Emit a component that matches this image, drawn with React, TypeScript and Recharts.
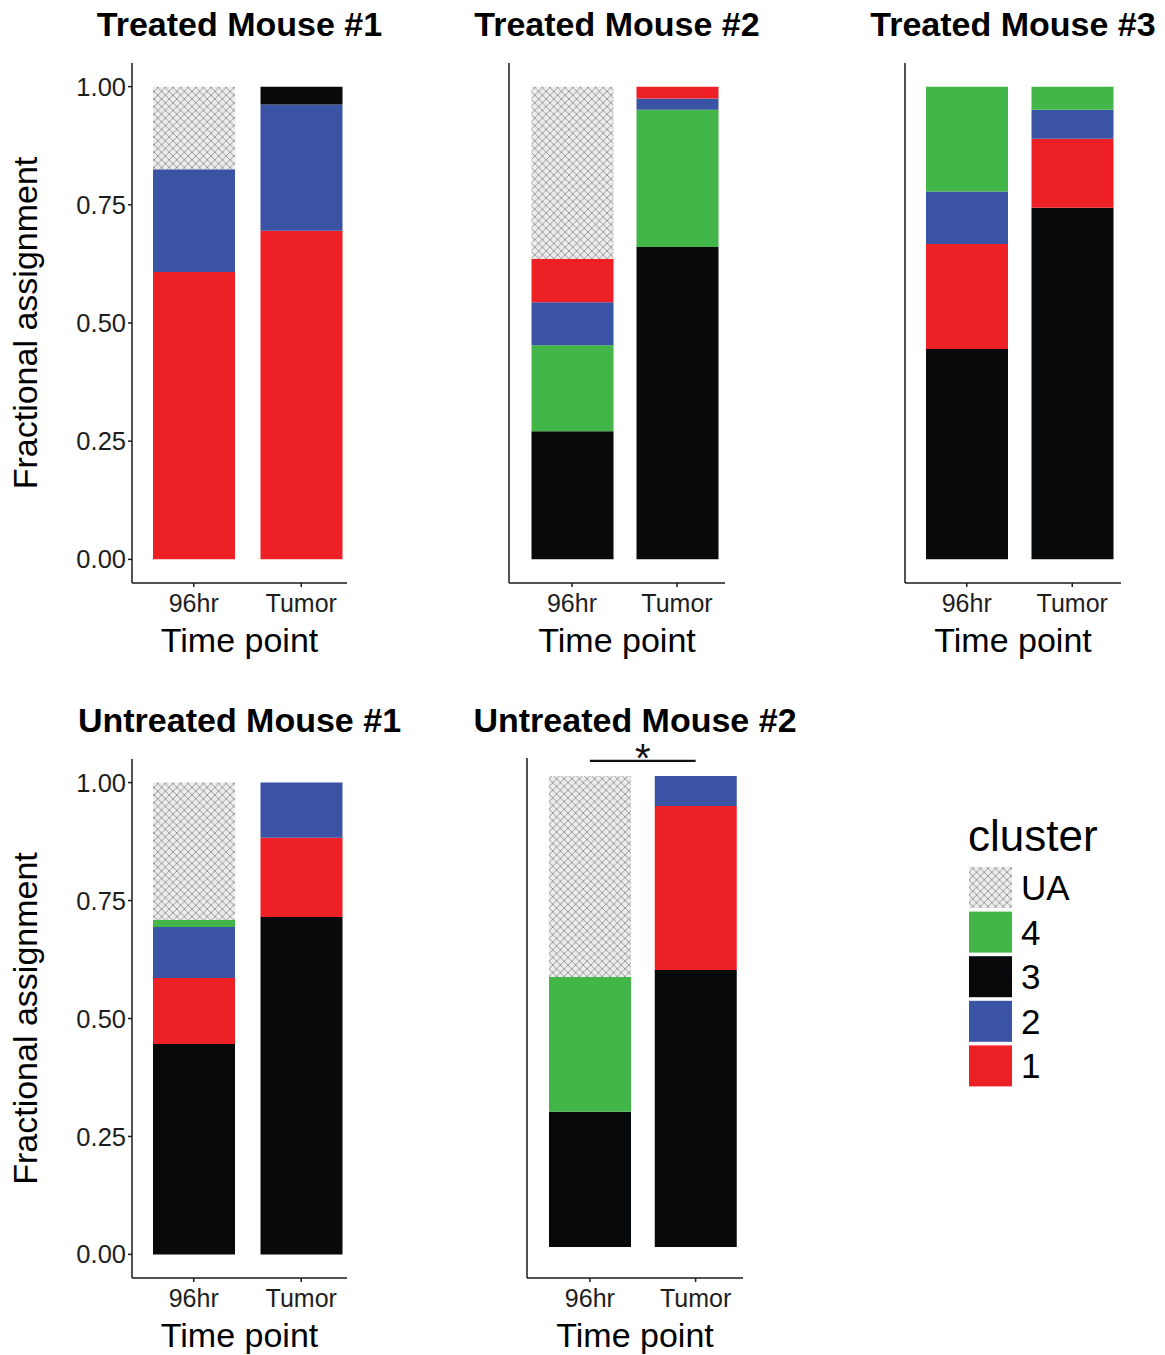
import React from 'react';
import { BarChart, Bar, XAxis, YAxis, ReferenceLine } from 'recharts';

const FONT = '"Liberation Sans", Arial, Helvetica, sans-serif';

// categories
const timePoints = ['96hr', 'Tumor'];
const yTicks = [0, 0.25, 0.5, 0.75, 1];
const legendKeys = ['UA', '4', '3', '2', '1'];

// colors per cluster
const clusterColors: Record<string, string> = {
  c1: '#ED2125',
  c2: '#3A53A4',
  c3: '#08090B',
  c4: '#42B649',
};

// values per cluster, [96hr, Tumor]
const treated1_c1 = [0.608, 0.695];
const treated1_c2 = [0.217, 0.267];
const treated1_c3 = [0, 0.038];
const treated1_c4 = [0, 0];
const treated1_ua = [0.175, 0];

const treated2_c1 = [0.092, 0.025];
const treated2_c2 = [0.091, 0.024];
const treated2_c3 = [0.271, 0.661];
const treated2_c4 = [0.182, 0.290];
const treated2_ua = [0.364, 0];

const treated3_c1 = [0.222, 0.146];
const treated3_c2 = [0.111, 0.061];
const treated3_c3 = [0.445, 0.744];
const treated3_c4 = [0.222, 0.049];
const treated3_ua = [0, 0];

const untreated1_c1 = [0.140, 0.168];
const untreated1_c2 = [0.108, 0.117];
const untreated1_c3 = [0.446, 0.715];
const untreated1_c4 = [0.015, 0];
const untreated1_ua = [0.291, 0];

const untreated2_c1 = [0, 0.348];
const untreated2_c2 = [0, 0.064];
const untreated2_c3 = [0.287, 0.588];
const untreated2_c4 = [0.286, 0];
const untreated2_ua = [0.427, 0];

// stacking order (bottom -> top) per panel
const order1 = ['c1', 'c2', 'c3', 'c4', 'UA'];
const order2 = ['c3', 'c4', 'c2', 'c1', 'UA'];
const order3 = ['c3', 'c1', 'c2', 'c4', 'UA'];
const order4 = ['c3', 'c1', 'c2', 'c4', 'UA'];
const order5 = ['c3', 'c4', 'c1', 'c2', 'UA'];

// significance annotation for Untreated Mouse #2
const sigPair = ['96hr', 'Tumor'];
const sigLevel = 1.032;
const sigLabel = '*';

const Y_W = 130;
const M_TOP = 40;

type PanelCfg = {
  id: string;
  title: string;
  vals: number[][]; // c1,c2,c3,c4,UA
  order: string[];
  plotLeft: number;
  plotTop: number;
  plotW: number;
  plotH: number;
  padL: number;
  padR: number;
  domain: [number, number];
  showY: boolean;
  titleTop: number;
  sig?: boolean;
};

const panels: PanelCfg[] = [
  {
    id: 't1', title: 'Treated Mouse #1',
    vals: [treated1_c1, treated1_c2, treated1_c3, treated1_c4, treated1_ua],
    order: order1, plotLeft: 132, plotTop: 63, plotW: 215, plotH: 520,
    padL: 8, padR: -8, domain: [-0.05, 1.05], showY: true, titleTop: 9,
  },
  {
    id: 't2', title: 'Treated Mouse #2',
    vals: [treated2_c1, treated2_c2, treated2_c3, treated2_c4, treated2_ua],
    order: order2, plotLeft: 509, plotTop: 63, plotW: 216, plotH: 520,
    padL: 10.5, padR: -4.5, domain: [-0.05, 1.05], showY: false, titleTop: 9,
  },
  {
    id: 't3', title: 'Treated Mouse #3',
    vals: [treated3_c1, treated3_c2, treated3_c3, treated3_c4, treated3_ua],
    order: order3, plotLeft: 905, plotTop: 63, plotW: 216, plotH: 520,
    padL: 9, padR: -4, domain: [-0.05, 1.05], showY: false, titleTop: 9,
  },
  {
    id: 'u1', title: 'Untreated Mouse #1',
    vals: [untreated1_c1, untreated1_c2, untreated1_c3, untreated1_c4, untreated1_ua],
    order: order4, plotLeft: 132, plotTop: 759, plotW: 215, plotH: 519,
    padL: 8, padR: -8, domain: [-0.05, 1.05], showY: true, titleTop: 705,
  },
  {
    id: 'u2', title: 'Untreated Mouse #2',
    vals: [untreated2_c1, untreated2_c2, untreated2_c3, untreated2_c4, untreated2_ua],
    order: order5, plotLeft: 527, plotTop: 758, plotW: 216, plotH: 520,
    padL: 10, padR: -5.5, domain: [-0.066, 1.038], showY: false, titleTop: 705, sig: true,
  },
];

function Hatch({ id }: { id: string }) {
  return (
    <pattern id={id} patternUnits="userSpaceOnUse" width={7.6} height={7.6}>
      <rect x={0} y={0} width={7.6} height={7.6} fill="#ececec" />
      <path d="M-1,-1 L8.6,8.6 M-1,8.6 L8.6,-1" stroke="#929292" strokeWidth={0.9} />
    </pattern>
  );
}

const XTitle = (props: any) => {
  const vb = props.viewBox || { x: 0, y: 0, width: 0, height: 0 };
  return (
    <text x={vb.x + vb.width / 2} y={vb.y + 69} textAnchor="middle" fontSize={34} fontFamily={FONT} fill="#000">
      Time point
    </text>
  );
};

const YTitle = (props: any) => {
  const vb = props.viewBox || { x: 0, y: 0, width: 0, height: 0 };
  const x = vb.x + 35;
  const y = vb.y + vb.height / 2;
  return (
    <text x={x} y={y} transform={`rotate(-90, ${x}, ${y})`} textAnchor="middle" fontSize={34} fontFamily={FONT} fill="#000">
      Fractional assignment
    </text>
  );
};

const SigMark = (props: any) => {
  const vb = props.viewBox || { x: 0, y: 0, width: 0, height: 0 };
  return (
    <text x={vb.x + vb.width / 2} y={vb.y + 11} textAnchor="middle" fontSize={40} fontFamily={FONT} fill="#111">
      {sigLabel}
    </text>
  );
};

function Panel({ p }: { p: PanelCfg }) {
  const data = timePoints.map((t, i) => ({
    time: t,
    c1: p.vals[0][i],
    c2: p.vals[1][i],
    c3: p.vals[2][i],
    c4: p.vals[3][i],
    UA: p.vals[4][i],
  }));
  const pid = `ua-${p.id}`;
  const chartW = Y_W + p.plotW + 10;
  const chartH = M_TOP + p.plotH + 80;
  const axisStyle = { stroke: '#1a1a1a', strokeWidth: 1.5 };
  return (
    <>
      <div
        style={{
          position: 'absolute', left: p.plotLeft - 60, width: p.plotW + 120, top: p.titleTop,
          textAlign: 'center', fontSize: 34, lineHeight: '30px', fontWeight: 700, fontFamily: FONT,
          color: '#000', whiteSpace: 'nowrap',
        }}
      >
        {p.title}
      </div>
      <div style={{ position: 'absolute', left: p.plotLeft - Y_W, top: p.plotTop - M_TOP }}>
        <BarChart width={chartW} height={chartH} data={data} margin={{ top: M_TOP, right: 10, bottom: 0, left: 0 }}>
          <defs>
            <Hatch id={pid} />
          </defs>
          <XAxis
            dataKey="time"
            height={80}
            interval={0}
            padding={{ left: p.padL, right: p.padR }}
            tickSize={4}
            tickMargin={7}
            axisLine={axisStyle}
            tickLine={axisStyle}
            tick={{ fill: '#1e1e1e', fontSize: 25, fontFamily: FONT }}
            label={XTitle}
          />
          <YAxis
            type="number"
            domain={p.domain}
            allowDataOverflow
            ticks={yTicks}
            width={Y_W}
            tickSize={4}
            tickMargin={2}
            axisLine={axisStyle}
            tickLine={p.showY ? axisStyle : false}
            tick={p.showY ? { fill: '#1e1e1e', fontSize: 25.5, fontFamily: FONT } : false}
            tickFormatter={(v: number) => v.toFixed(2)}
            label={p.showY ? YTitle : undefined}
          />
          {p.order.map((k) => (
            <Bar
              key={k}
              dataKey={k}
              stackId="s"
              barSize={82}
              fill={k === 'UA' ? `url(#${pid})` : clusterColors[k]}
              isAnimationActive={false}
            />
          ))}
          {p.sig ? (
            <ReferenceLine
              segment={[{ x: sigPair[0], y: sigLevel }, { x: sigPair[1], y: sigLevel }]}
              stroke="#111"
              strokeWidth={2.2}
              ifOverflow="visible"
              label={SigMark}
            />
          ) : null}
        </BarChart>
      </div>
    </>
  );
}

function LegendBox() {
  const keyFill: Record<string, string> = {
    UA: 'url(#ua-legend)',
    '4': clusterColors.c4,
    '3': clusterColors.c3,
    '2': clusterColors.c2,
    '1': clusterColors.c1,
  };
  return (
    <svg width={200} height={300} style={{ position: 'absolute', left: 950, top: 800 }}>
      <defs>
        <Hatch id="ua-legend" />
      </defs>
      <text x={18} y={51} fontSize={44} fontFamily={FONT} fill="#000">cluster</text>
      {legendKeys.map((k, i) => {
        const y = 67 + i * 44.6;
        return (
          <g key={k}>
            <rect x={19} y={y} width={43} height={41} fill={keyFill[k]} />
            <text x={71} y={y + 20.5 + 12.5} fontSize={35} fontFamily={FONT} fill="#000">{k}</text>
          </g>
        );
      })}
    </svg>
  );
}

export default function App() {
  return (
    <div style={{ position: 'absolute', left: 0, top: 0, width: 1165, height: 1355, background: '#fff', fontFamily: FONT }}>
      {panels.map((p) => (
        <Panel key={p.id} p={p} />
      ))}
      <LegendBox />
    </div>
  );
}
